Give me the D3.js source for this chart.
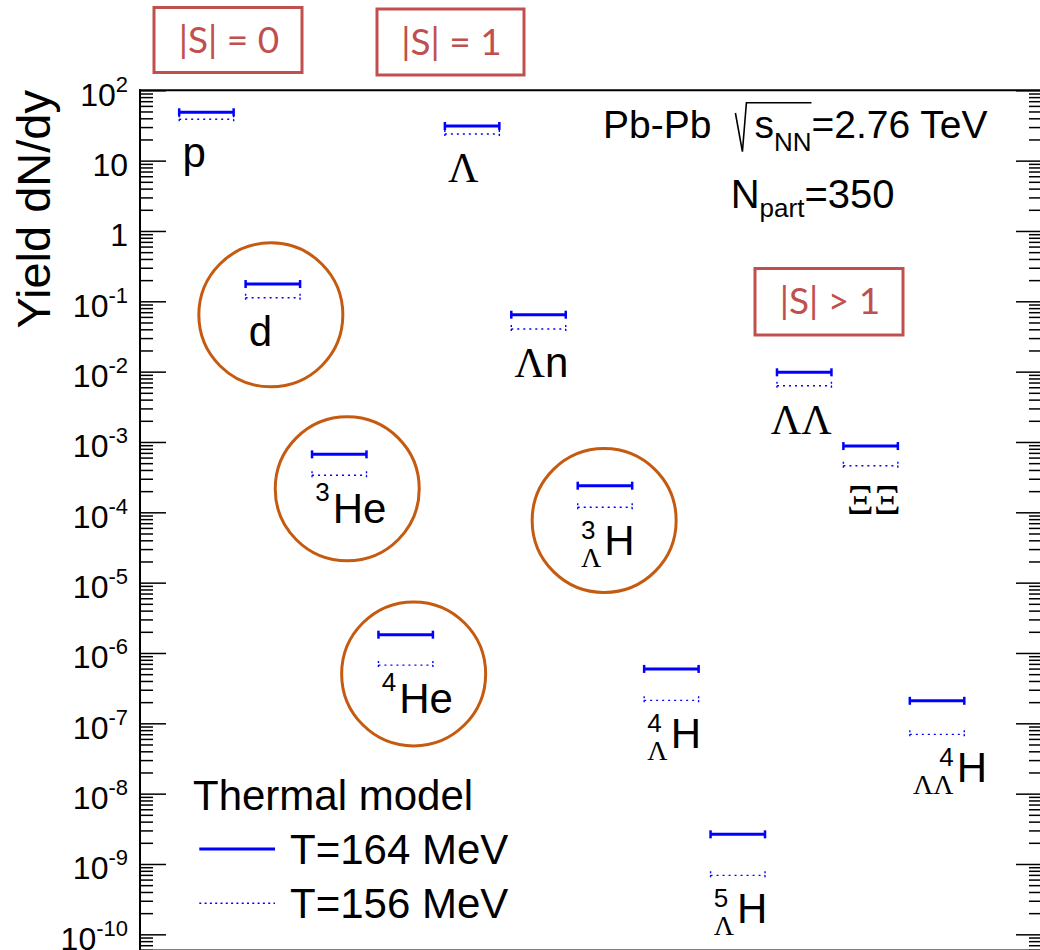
<!DOCTYPE html>
<html>
<head>
<meta charset="utf-8">
<script src="https://cdn.jsdelivr.net/npm/d3@7"></script>
<style>
  body { margin: 0; background: #fff; }
  svg { display: block; }
</style>
</head>
<body>
<svg id="chart" width="1040" height="950"></svg>
<script>
// species, in plotting order
const species = ['p', 'd', '3He', '4He', 'Lambda', 'LambdaN', '3LH', '4LH', '5LH', 'LL', 'XiXi', '4LLH'];
const labelMain = ['p', 'd', 'He', 'He', 'Λ', 'Λn', 'H', 'H', 'H', 'ΛΛ', 'ΞΞ', 'H'];
const labelSup = ['', '', '3', '4', '', '', '3', '4', '5', '', '', '4'];
const labelSub = ['', '', '', '', '', '', 'Λ', 'Λ', 'Λ', '', '', 'ΛΛ'];

// thermal model yields dN/dy
const yieldT164 = [48.7, 0.176, 6.67e-4, 1.82e-6, 31.1, 0.0645, 2.39e-4, 5.93e-7, 2.64e-9, 9.78e-3, 8.75e-4, 2.09e-7];
const yieldT156 = [38.7, 0.1125, 3.36e-4, 6.73e-7, 23.9, 0.0404, 1.18e-4, 2.12e-7, 6.89e-10, 6.3e-3, 4.59e-4, 6.97e-8];
const seriesNames = ['T=164 MeV', 'T=156 MeV'];

const circled = ['d', '3He', '4He', '3LH'];
const strangeness = ['|S| = 0', '|S| = 1', '|S| > 1'];
const majorExp = d3.range(-10, 3);

const SANS = "'Liberation Sans', Arial, Helvetica, sans-serif";
const SERIF = "'Liberation Serif', 'Times New Roman', serif";
const BLUE = '#0000ff';

const svg = d3.select('#chart');
const frame = { left: 140, top: 90.3, right: 1042, bottom: 950.5 };

const x = d3.scaleLinear().domain([0, 13.58]).range([frame.left, frame.right]);
const y = d3.scaleLog().domain([Math.pow(10, -10.23), 100]).range([frame.bottom, frame.top]);

const majorTicks = majorExp.map(e => Math.pow(10, e));
const minorTicks = [];
for (let e = -11; e <= 1; e++) {
  for (let m = 2; m <= 9; m++) {
    const v = m * Math.pow(10, e);
    if (v >= y.domain()[0] && v <= y.domain()[1]) minorTicks.push(v);
  }
}

// ---- axes ----
function styleAxis(g) {
  g.select('.domain').remove();
  g.selectAll('.tick line').attr('stroke', '#000').attr('stroke-width', 1.5);
}
svg.append('g').attr('transform', `translate(${frame.left},0)`)
  .call(d3.axisLeft(y).tickValues(minorTicks).tickSize(-13).tickFormat(''))
  .call(styleAxis);
svg.append('g').attr('transform', `translate(${frame.right},0)`)
  .call(d3.axisRight(y).tickValues(minorTicks).tickSize(-13).tickFormat(''))
  .call(styleAxis);
svg.append('g').attr('transform', `translate(${frame.right},0)`)
  .call(d3.axisRight(y).tickValues(majorTicks).tickSize(-26).tickFormat(''))
  .call(styleAxis);

const yAxis = svg.append('g').attr('transform', `translate(${frame.left},0)`)
  .call(d3.axisLeft(y).tickValues(majorTicks).tickSize(-26).tickPadding(12))
  .call(styleAxis)
  .attr('font-family', SANS).attr('font-size', 32);

yAxis.selectAll('.tick text').each(function (d) {
  const t = d3.select(this).text('').attr('dy', null).attr('y', 15).attr('fill', '#000');
  const e = Math.round(Math.log10(d));
  if (e === 0) t.text('1');
  else if (e === 1) t.text('10');
  else {
    t.append('tspan').text('10');
    t.append('tspan').attr('font-size', 22).attr('dy', -14).text(e);
  }
});

// frame
const fr = svg.append('g').attr('stroke', '#000').attr('stroke-width', 2);
fr.append('line').attr('x1', frame.left).attr('x2', frame.left).attr('y1', frame.top - 1).attr('y2', frame.bottom);
fr.append('line').attr('x1', frame.left - 1).attr('x2', frame.right).attr('y1', frame.top).attr('y2', frame.top);
fr.append('line').attr('x1', frame.left).attr('x2', frame.right).attr('y1', frame.bottom).attr('y2', frame.bottom);

svg.append('text')
  .attr('transform', 'translate(50,90) rotate(-90)')
  .attr('text-anchor', 'end')
  .attr('font-family', SANS).attr('font-size', 47)
  .text('Yield dN/dy');

// ---- markers and labels ----
const isGreek = c => /[\u0370-\u03ff]/.test(c);
function appendMixed(textSel, str) {
  let run = '', greek = null;
  const flush = () => {
    if (!run) return;
    textSel.append('tspan').attr('font-family', greek ? SERIF : SANS).text(run);
    run = '';
  };
  for (const c of str) {
    const g = isGreek(c);
    if (greek !== null && g !== greek) flush();
    greek = g;
    run += c;
  }
  flush();
}

const halfW = 0.41;
function drawBar(g, xc, yv, solid) {
  const x1 = x(xc - halfW), x2 = x(xc + halfW), yy = y(yv);
  const s = g.append('g').attr('stroke', BLUE)
    .attr('stroke-width', solid ? 3 : 1.4)
    .attr('stroke-dasharray', solid ? null : '2,4');
  s.append('line').attr('x1', x1).attr('x2', x2).attr('y1', yy).attr('y2', yy);
  [x1, x2].forEach(xx => {
    s.append('line').attr('x1', xx).attr('x2', xx).attr('y1', yy - 4).attr('y2', yy + 4)
      .attr('stroke-width', solid ? 2.5 : 1.4)
      .attr('stroke-dasharray', solid ? null : '2,2');
  });
}

species.forEach((sp, i) => {
  const g = svg.append('g').attr('class', 'species').attr('id', 'sp-' + sp);
  drawBar(g, i + 1, yieldT156[i], false);
  drawBar(g, i + 1, yieldT164[i], true);

  const x0 = x(i + 1) - 24;
  const base = y(yieldT156[i]) + 48;
  const lab = g.append('g').attr('class', 'label');
  let mainX = x0;
  if (labelSup[i] || labelSub[i]) {
    let wSup = 0, wSub = 0;
    let supT = null, subT = null;
    if (labelSup[i]) {
      supT = lab.append('text').attr('font-family', SANS).attr('font-size', 26)
        .attr('x', x0).attr('y', base - (labelSub[i] ? 16 : 22)).text(labelSup[i]);
      wSup = supT.node().getComputedTextLength();
    }
    if (labelSub[i]) {
      subT = lab.append('text').attr('font-family', SERIF).attr('font-size', 28)
        .attr('x', x0).attr('y', base + 12).text(labelSub[i]);
      wSub = subT.node().getComputedTextLength();
    }
    const w = Math.max(wSup, wSub);
    if (supT && labelSub[i].length > 1) supT.attr('x', x0 + w - wSup);
    mainX = x0 + w + 3;
  }
  const mt = lab.append('text').attr('font-size', 42).attr('x', mainX).attr('y', base);
  appendMixed(mt, labelMain[i]);
  const mw = mt.node().getComputedTextLength();
  if (!labelSup[i] && mw > 55) mt.attr('x', x(i + 1) - 3).attr('text-anchor', 'middle');

  if (circled.includes(sp)) {
    const bb = g.node().getBBox();
    const cx = bb.x + bb.width / 2 - 2;
    const cy = (y(yieldT164[i]) + base) / 2;
    svg.append('circle').attr('cx', cx).attr('cy', cy).attr('r', 72)
      .attr('fill', 'none').attr('stroke', '#c55a11').attr('stroke-width', 3);
  }
});

// ---- strangeness boxes ----
const boxLayout = [
  { x: 154, y: 7.5, w: 148, h: 65 },
  { x: 377, y: 9, w: 147, h: 66 },
  { x: 755, y: 268.5, w: 148, h: 66.5 }
];
strangeness.forEach((s, i) => {
  const b = boxLayout[i];
  svg.append('rect').attr('x', b.x).attr('y', b.y).attr('width', b.w).attr('height', b.h)
    .attr('fill', 'none').attr('stroke', '#c0504d').attr('stroke-width', 3);
  svg.append('text').attr('x', b.x + b.w / 2 + 1).attr('y', b.y + 45.5)
    .attr('text-anchor', 'middle').attr('fill', '#c0504d')
    .attr('font-family', "Lato, 'Open Sans', sans-serif").attr('font-size', 37)
    .text(s);
});

// ---- collision info ----
const info = svg.append('text').attr('font-family', SANS).attr('font-size', 39)
  .attr('x', 603).attr('y', 138.3);
info.append('tspan').text('Pb-Pb');
info.append('tspan').attr('dx', 43).text('s');
info.append('tspan').attr('font-size', 26).attr('dy', 12.4).text('NN');
info.append('tspan').attr('dy', -12.4).text('=2.76 TeV');
const sIdx = 'Pb-Pb'.length;
const sx = info.node().getStartPositionOfChar(sIdx).x;
const ex = info.node().getEndPositionOfChar(sIdx + 2).x;
svg.append('path')
  .attr('d', `M${sx - 19},113 L${sx - 12},151.7 L${sx - 8},102.7 L${ex},102.7`)
  .attr('fill', 'none').attr('stroke', '#000').attr('stroke-width', 1.6);

const npart = svg.append('text').attr('font-family', SANS).attr('font-size', 40)
  .attr('x', 730.7).attr('y', 208.3);
npart.append('tspan').text('N');
npart.append('tspan').attr('font-size', 26).attr('dy', 9).text('part');
npart.append('tspan').attr('dy', -9).text('=350');

// ---- legend ----
const leg = svg.append('g').attr('font-family', SANS).attr('font-size', 42);
leg.append('text').attr('x', 193).attr('y', 810).text('Thermal model');
const legRows = [{ y: 849, solid: true }, { y: 903.3, solid: false }];
seriesNames.forEach((name, i) => {
  const r = legRows[i];
  leg.append('line').attr('x1', 199.3).attr('x2', 275).attr('y1', r.y).attr('y2', r.y)
    .attr('stroke', BLUE).attr('stroke-width', r.solid ? 3 : 1.4)
    .attr('stroke-dasharray', r.solid ? null : '2,3.3');
  leg.append('text').attr('x', 290).attr('y', r.y + 14.6).text(name);
});
</script>
</body>
</html>
